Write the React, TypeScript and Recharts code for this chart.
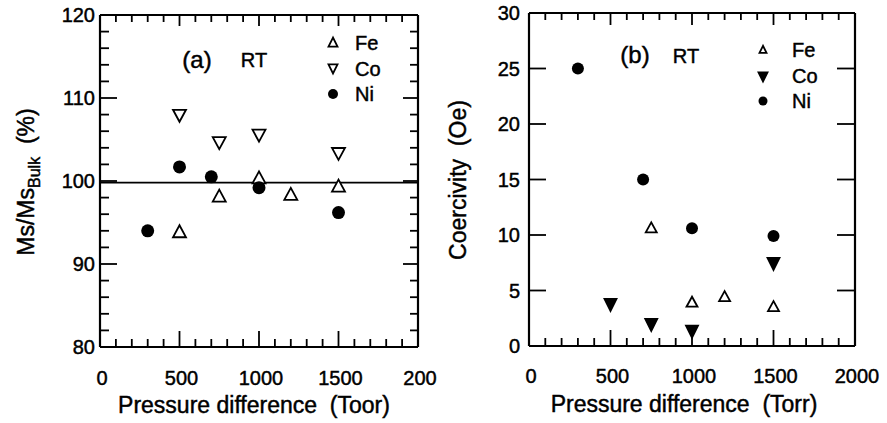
import React from 'react';
import { ScatterChart, Scatter, XAxis, YAxis, ReferenceLine } from 'recharts';

const FONT = '"Liberation Sans", Arial, Helvetica, sans-serif';

// ---------- Panel (a): Ms/Ms_bulk vs pressure difference ----------
const feA_p = [500, 750, 1000, 1200, 1500];
const feA_ms = [93.8, 98.1, 100.3, 98.3, 99.3];
const coA_p = [500, 750, 1000, 1500];
const coA_ms = [108.0, 104.7, 105.6, 103.4];
const niA_p = [300, 500, 700, 1000, 1500];
const niA_ms = [94.0, 101.7, 100.5, 99.2, 96.2];
const bulkLevel = 99.8;

// ---------- Panel (b): coercivity vs pressure difference ----------
const feB_p = [750, 1000, 1200, 1500];
const feB_hc = [10.6, 3.9, 4.4, 3.5];
const coB_p = [500, 750, 1000, 1500];
const coB_hc = [3.8, 2.0, 1.4, 7.5];
const niB_p = [300, 700, 1000, 1500];
const niB_hc = [25.0, 15.0, 10.6, 9.9];

// ---------- ticks ----------
const xTicks = [0, 100, 200, 300, 400, 500, 600, 700, 800, 900, 1000, 1100, 1200, 1300, 1400, 1500, 1600, 1700, 1800, 1900, 2000];
const xMajor = [0, 500, 1000, 1500, 2000];
const xLabelsA = ['0', '500', '1000', '1500', '200'];
const xLabelsB = ['0', '500', '1000', '1500', '2000'];
const yTicksA = [80, 82, 84, 86, 88, 90, 92, 94, 96, 98, 100, 102, 104, 106, 108, 110, 112, 114, 116, 118, 120];
const yMajorA = [80, 90, 100, 110, 120];
const yLabelsA = ['80', '90', '100', '110', '120'];
const yTicksB = [0, 5, 10, 15, 20, 25, 30];
const yMajorB = [0, 5, 10, 15, 20, 25, 30];
const yLabelsB = ['0', '5', '10', '15', '20', '25', '30'];

const legendNames = ['Fe', 'Co', 'Ni'];

const zip = (xs: number[], ys: number[]) => xs.map((x, i) => ({ x, y: ys[i] }));

const TXT = { fill: '#000', stroke: '#000', strokeWidth: 0.45 };

type TickCfg = {
  side: 'bottom' | 'left';
  majors: number[];
  labels: string[];
  majorLen: number;
  minorLen: number;
  mirrorPos: number; // pixel position of the opposite frame edge
  mirrorMajorLen: number;
  mirrorMinorLen: number;
  labelOffset: number;
  skipEnds?: boolean;
};

const makeTick = (cfg: TickCfg) => (props: any) => {
  const { x, y, payload } = props;
  const v = payload.value;
  const mi = cfg.majors.indexOf(v);
  const isMajor = mi >= 0;
  const len = isMajor ? cfg.majorLen : cfg.minorLen;
  const mlen = isMajor ? cfg.mirrorMajorLen : cfg.mirrorMinorLen;
  const isEnd = v === cfg.majors[0] || v === cfg.majors[cfg.majors.length - 1];
  const showLines = !isEnd;
  if (cfg.side === 'bottom') {
    return (
      <g>
        {showLines && <line x1={x} y1={y} x2={x} y2={y - len} stroke="#000" strokeWidth={1.8} />}
        {showLines && <line x1={x} y1={cfg.mirrorPos} x2={x} y2={cfg.mirrorPos + mlen} stroke="#000" strokeWidth={1.8} />}
        {isMajor && (
          <text x={x + 2} y={y + cfg.labelOffset} textAnchor="middle" fontSize={20} fontFamily={FONT} {...TXT}>
            {cfg.labels[mi]}
          </text>
        )}
      </g>
    );
  }
  return (
    <g>
      {showLines && <line x1={x} y1={y} x2={x + len} y2={y} stroke="#000" strokeWidth={1.8} />}
      {showLines && <line x1={cfg.mirrorPos} y1={y} x2={cfg.mirrorPos - mlen} y2={y} stroke="#000" strokeWidth={1.8} />}
      {isMajor && (
        <text x={x - cfg.labelOffset} y={y} dy="0.36em" textAnchor="end" fontSize={20} fontFamily={FONT} {...TXT}>
          {cfg.labels[mi]}
        </text>
      )}
    </g>
  );
};

const UpTri = ({ cx, cy, w, h, fill }: any) => (
  <polygon
    points={`${cx},${cy - h * 0.6} ${cx - w / 2},${cy + h * 0.4} ${cx + w / 2},${cy + h * 0.4}`}
    fill={fill}
    stroke="#000"
    strokeWidth={1.8}
  />
);
const DownTri = ({ cx, cy, w, h, fill }: any) => (
  <polygon
    points={`${cx - w / 2},${cy - h * 0.4} ${cx + w / 2},${cy - h * 0.4} ${cx},${cy + h * 0.6}`}
    fill={fill}
    stroke="#000"
    strokeWidth={1.8}
  />
);
const Dot = ({ cx, cy, r }: any) => <circle cx={cx} cy={cy} r={r} fill="#000" />;

const axisLine = { stroke: '#000', strokeWidth: 2.2 };

// panel geometry (layout only)
const A = { w: 440, h: 423, top: 15, right: 22, left: 100, bottom: 76 };
const B = { w: 447, h: 423, top: 13, right: 32, left: 89, bottom: 77 };

const PanelA = () => (
  <ScatterChart width={A.w} height={A.h} margin={{ top: A.top, right: A.right, bottom: 0, left: 0 }}>
    <XAxis dataKey="x" type="number" domain={[0, 2000]} ticks={xTicks} interval={0} height={A.bottom}
      stroke="#000" axisLine={axisLine} tickLine={false} tickSize={0} tickMargin={0}
      tick={makeTick({ side: 'bottom', majors: xMajor, labels: xLabelsA, majorLen: 16, minorLen: 8,
        mirrorPos: A.top, mirrorMajorLen: 11, mirrorMinorLen: 7, labelOffset: 38 })} />
    <YAxis dataKey="y" type="number" domain={[80, 120]} ticks={yTicksA} interval={0} width={A.left}
      stroke="#000" axisLine={axisLine} tickLine={false} tickSize={0} tickMargin={0}
      tick={makeTick({ side: 'left', majors: yMajorA, labels: yLabelsA, majorLen: 17, minorLen: 9,
        mirrorPos: A.w - A.right, mirrorMajorLen: 15, mirrorMinorLen: 8, labelOffset: 5 })} />
    <ReferenceLine y={120} stroke="#000" strokeWidth={2.2} />
    <ReferenceLine x={2000} stroke="#000" strokeWidth={2.2} />
    <ReferenceLine y={bulkLevel} stroke="#000" strokeWidth={1.8} />
    <Scatter name="Fe" data={zip(feA_p, feA_ms)} isAnimationActive={false}
      shape={(p: any) => <UpTri cx={p.cx} cy={p.cy} w={13} h={12} fill="#fff" />} />
    <Scatter name="Co" data={zip(coA_p, coA_ms)} isAnimationActive={false}
      shape={(p: any) => <DownTri cx={p.cx} cy={p.cy} w={13} h={12} fill="#fff" />} />
    <Scatter name="Ni" data={zip(niA_p, niA_ms)} isAnimationActive={false}
      shape={(p: any) => <Dot cx={p.cx} cy={p.cy} r={6.5} />} />
  </ScatterChart>
);

const PanelB = () => (
  <ScatterChart width={B.w} height={B.h} margin={{ top: B.top, right: B.right, bottom: 0, left: 0 }}>
    <XAxis dataKey="x" type="number" domain={[0, 2000]} ticks={xTicks} interval={0} height={B.bottom}
      stroke="#000" axisLine={axisLine} tickLine={false} tickSize={0} tickMargin={0}
      tick={makeTick({ side: 'bottom', majors: xMajor, labels: xLabelsB, majorLen: 16, minorLen: 8,
        mirrorPos: B.top, mirrorMajorLen: 12, mirrorMinorLen: 7, labelOffset: 37 })} />
    <YAxis dataKey="y" type="number" domain={[0, 30]} ticks={yTicksB} interval={0} width={B.left}
      stroke="#000" axisLine={axisLine} tickLine={false} tickSize={0} tickMargin={0}
      tick={makeTick({ side: 'left', majors: yMajorB, labels: yLabelsB, majorLen: 17, minorLen: 17,
        mirrorPos: B.w - B.right, mirrorMajorLen: 18, mirrorMinorLen: 18, labelOffset: 9 })} />
    <ReferenceLine y={30} stroke="#000" strokeWidth={2.2} />
    <ReferenceLine x={2000} stroke="#000" strokeWidth={2.2} />
    <Scatter name="Fe" data={zip(feB_p, feB_hc)} isAnimationActive={false}
      shape={(p: any) => <UpTri cx={p.cx} cy={p.cy} w={11} h={10} fill="#fff" />} />
    <Scatter name="Co" data={zip(coB_p, coB_hc)} isAnimationActive={false}
      shape={(p: any) => <DownTri cx={p.cx} cy={p.cy} w={12} h={12} fill="#000" />} />
    <Scatter name="Ni" data={zip(niB_p, niB_hc)} isAnimationActive={false}
      shape={(p: any) => <Dot cx={p.cx} cy={p.cy} r={6} />} />
  </ScatterChart>
);

const Overlay = () => (
  <svg width={887} height={423} style={{ position: 'absolute', left: 0, top: 0, pointerEvents: 'none' }} fontFamily={FONT}>
    {/* panel a annotations */}
    <text x={197} y={68} textAnchor="middle" fontSize={24} {...TXT}>(a)</text>
    <text x={254} y={67} textAnchor="middle" fontSize={20} {...TXT}>RT</text>
    {/* panel a legend */}
    <UpTri cx={333} cy={43} w={9} h={9} fill="#fff" />
    <DownTri cx={333} cy={68} w={9} h={9} fill="#fff" />
    <Dot cx={333} cy={94} r={5} />
    {legendNames.map((n, i) => (
      <text key={n} x={355} y={50 + i * 25.5} fontSize={20} {...TXT}>{n}</text>
    ))}
    {/* panel b annotations */}
    <text x={635} y={63} textAnchor="middle" fontSize={24} {...TXT}>(b)</text>
    <text x={686} y={63} textAnchor="middle" fontSize={20} {...TXT}>RT</text>
    {/* panel b legend */}
    <UpTri cx={763} cy={50} w={7} h={7} fill="#fff" />
    <DownTri cx={763} cy={76} w={9} h={9} fill="#000" />
    <Dot cx={763} cy={101} r={4.5} />
    {legendNames.map((n, i) => (
      <text key={n} x={792} y={57 + i * 25.5} fontSize={20} {...TXT}>{n}</text>
    ))}
    {/* axis titles */}
    <text x={254} y={413} textAnchor="middle" fontSize={23} style={{ whiteSpace: 'pre' }} {...TXT}>Pressure difference  (Toor)</text>
    <text x={684} y={412} textAnchor="middle" fontSize={23} style={{ whiteSpace: 'pre' }} {...TXT}>Pressure difference  (Torr)</text>
    <text transform="translate(34,182) rotate(-90)" textAnchor="middle" fontSize={23} style={{ whiteSpace: 'pre' }} {...TXT}>
      <tspan>Ms/Ms</tspan>
      <tspan dy={6} fontSize={16}>Bulk</tspan>
      <tspan dy={-6}>  (%)</tspan>
    </text>
    <text transform="translate(466,180) rotate(-90)" textAnchor="middle" fontSize={23} style={{ whiteSpace: 'pre' }} {...TXT}>
      Coercivity  (Oe)
    </text>
  </svg>
);

export default function App() {
  return (
    <div style={{ position: 'absolute', left: 0, top: 0, width: 887, height: 423, background: '#fff', fontFamily: FONT }}>
      <div style={{ position: 'absolute', left: 0, top: 0 }}>
        <PanelA />
      </div>
      <div style={{ position: 'absolute', left: 440, top: 0 }}>
        <PanelB />
      </div>
      <Overlay />
    </div>
  );
}
